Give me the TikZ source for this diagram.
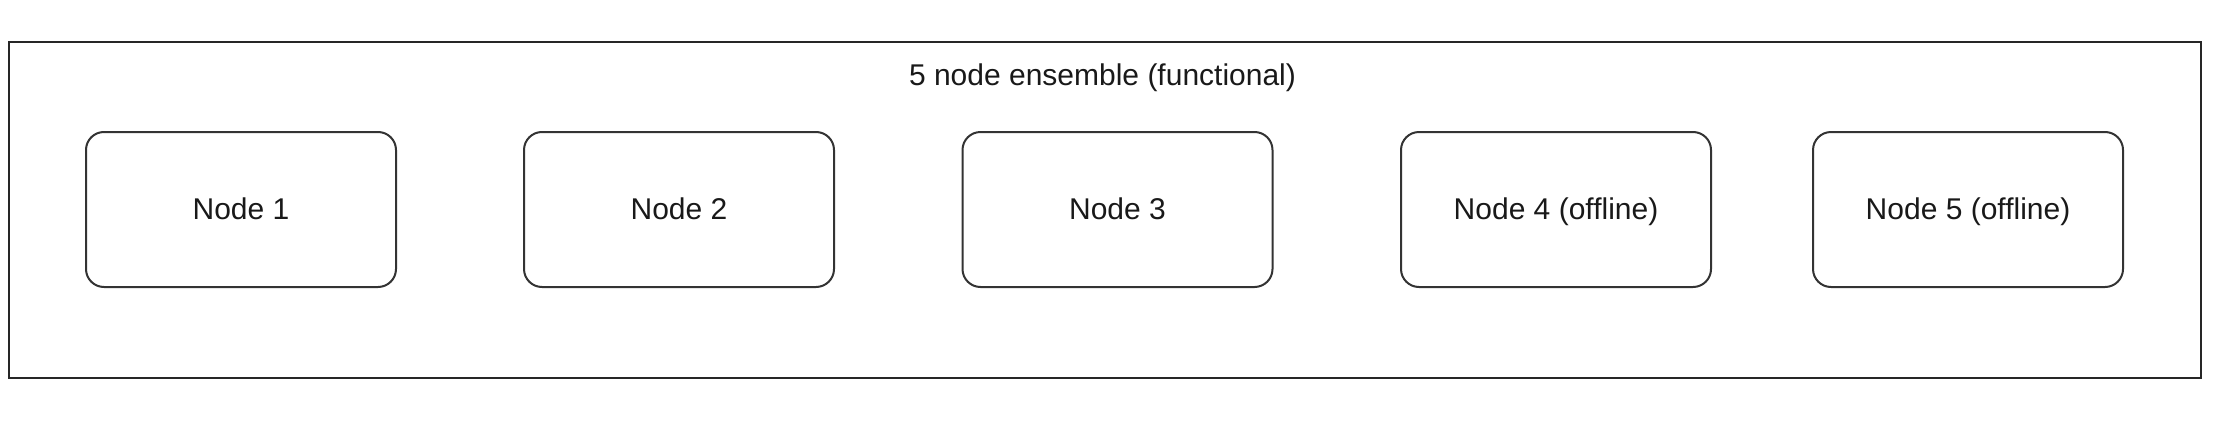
\documentclass[tikz,border=0pt]{standalone}
\usepackage{fontspec}
\setmainfont{Liberation Sans}
\begin{document}
\begin{tikzpicture}[x=0.5pt,y=-0.5pt,
  every node/.style={font=\fontsize{15pt}{18pt}\selectfont, text=black!90},
  member/.style={draw=black!80, line width=1pt, rounded corners=9pt, minimum width=155pt, minimum height=77.5pt, inner sep=0pt, text height=11.5pt, text depth=2pt},
  frame/.style={draw=black!85, line width=1pt}]
\useasboundingbox (0,0) rectangle (2236,423);
\draw[frame] (8.5,42) rectangle (2201,377.5);
\node (title) at (1102.5,78) {5 node ensemble (functional)};
\node[member] (n1) at (241,209.5) {Node 1};
\node[member] (n2) at (679,209.5) {Node 2};
\node[member] (n3) at (1117.5,209.5) {Node 3};
\node[member] (n4) at (1556,209.5) {Node 4 (offline)};
\node[member] (n5) at (1968,209.5) {Node 5 (offline)};
\end{tikzpicture}
\end{document}
